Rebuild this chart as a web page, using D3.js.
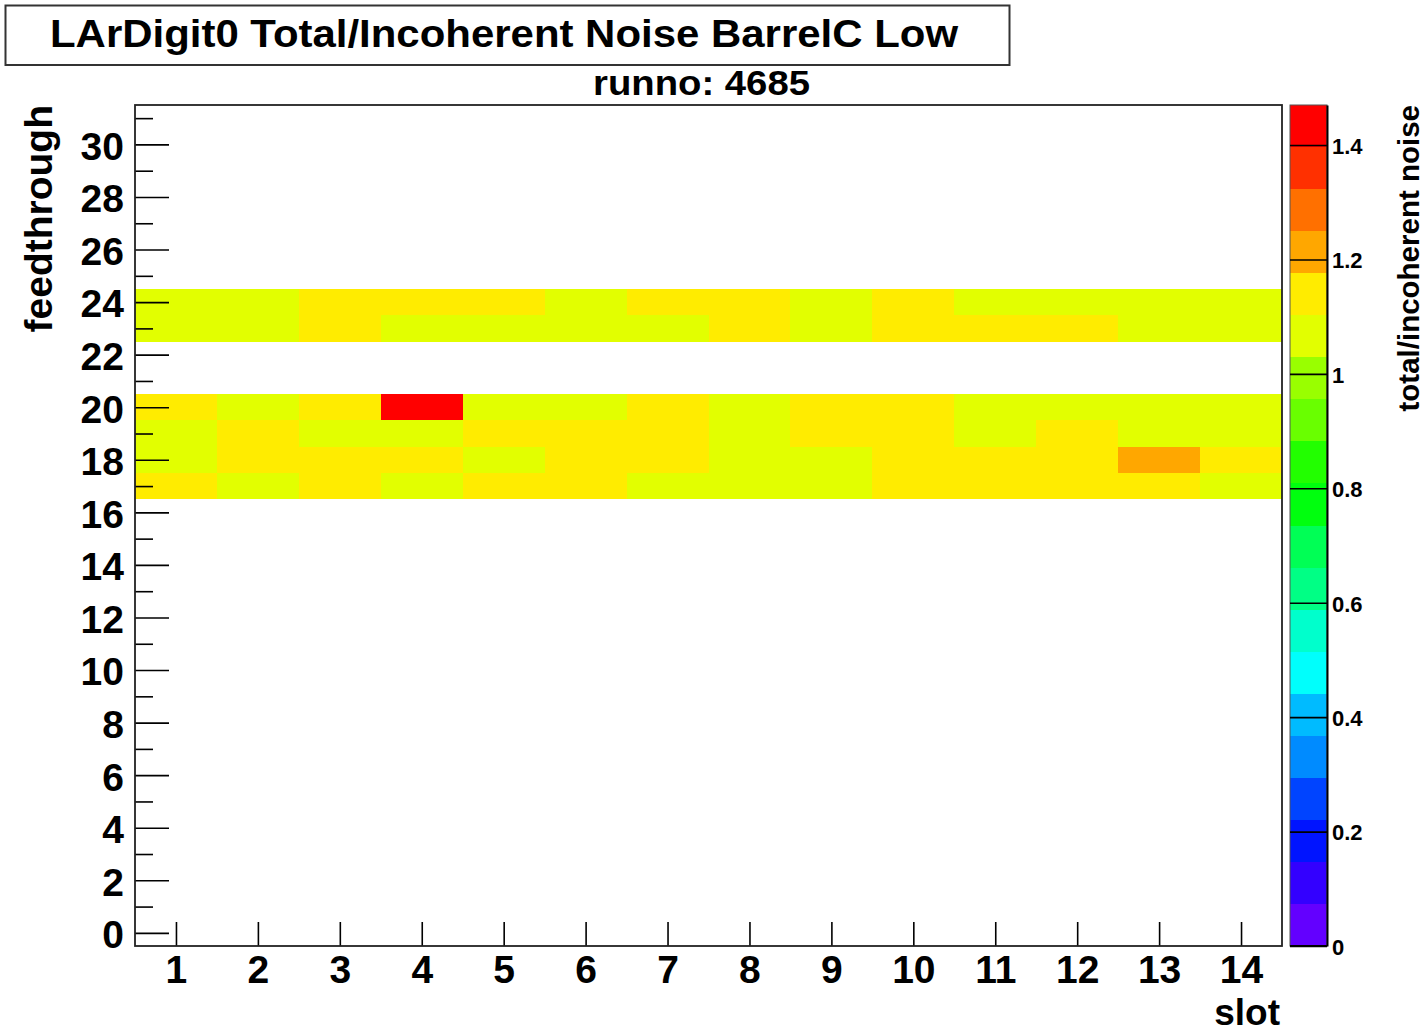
<!DOCTYPE html>
<html>
<head>
<meta charset="utf-8">
<script src="https://cdn.jsdelivr.net/npm/d3@7/dist/d3.min.js"></script>
<style>
  html, body { margin: 0; padding: 0; background: #fff; }
  svg { display: block; }
  text { font-family: "Liberation Sans", Arial, Helvetica, sans-serif; font-weight: bold; fill: #000; }
</style>
</head>
<body>
<svg id="chart" width="1428" height="1034"></svg>
<script>
// ---- data ------------------------------------------------------------
const slots = [1, 2, 3, 4, 5, 6, 7, 8, 9, 10, 11, 12, 13, 14];
const yTicksMajor = [0, 2, 4, 6, 8, 10, 12, 14, 16, 18, 20, 22, 24, 26, 28, 30];
const yTicksMinor = [1, 3, 5, 7, 9, 11, 13, 15, 17, 19, 21, 23, 25, 27, 29, 31];
const zTicks = [0, 0.2, 0.4, 0.6, 0.8, 1.0, 1.2, 1.4];

// total/incoherent noise per slot (1..14) for each populated feedthrough
const noiseFT17 = [1.116, 1.089, 1.129, 1.082, 1.137, 1.121, 1.093, 1.086, 1.079, 1.143, 1.126, 1.118, 1.131, 1.097];
const noiseFT18 = [1.084, 1.131, 1.146, 1.118, 1.091, 1.124, 1.113, 1.075, 1.098, 1.127, 1.139, 1.122, 1.208, 1.133];
const noiseFT19 = [1.092, 1.127, 1.085, 1.097, 1.115, 1.142, 1.129, 1.088, 1.121, 1.136, 1.077, 1.112, 1.089, 1.094];
const noiseFT20 = [1.124, 1.087, 1.138, 1.470, 1.083, 1.095, 1.121, 1.079, 1.133, 1.118, 1.086, 1.094, 1.073, 1.081];
const noiseFT23 = [1.082, 1.066, 1.119, 1.093, 1.079, 1.085, 1.072, 1.142, 1.088, 1.114, 1.125, 1.109, 1.091, 1.076];
const noiseFT24 = [1.071, 1.084, 1.128, 1.135, 1.122, 1.089, 1.131, 1.117, 1.078, 1.126, 1.092, 1.081, 1.074, 1.087];

const feedthroughs = [17, 18, 19, 20, 23, 24];
const rows = [noiseFT17, noiseFT18, noiseFT19, noiseFT20, noiseFT23, noiseFT24];

// 20-level rainbow palette, violet -> red
const palette = ["#6300ff", "#3300ff", "#0014ff", "#0044ff", "#008bff",
                 "#00bbff", "#00fffc", "#00ffcc", "#00ff85", "#00ff55",
                 "#00ff0e", "#22ff00", "#69ff00", "#99ff00", "#e2ff00",
                 "#ffec00", "#ffa700", "#ff7000", "#ff3000", "#ff0000"];

// ---- layout ----------------------------------------------------------
const svg = d3.select("#chart");
const plot = { left: 135, right: 1282, top: 105, bottom: 946 };
const bar = { left: 1290, right: 1327 };
const font = 39;

const x = d3.scaleLinear().domain([0.5, 14.5]).range([plot.left, plot.right]);
const y = d3.scaleLinear().domain([-0.5, 31.5]).range([plot.bottom, plot.top]);

const cells = [];
feedthroughs.forEach((ft, r) => rows[r].forEach((v, i) => cells.push({ slot: slots[i], ft, v })));

const zMax = d3.max(cells, d => d.v);
const z = d3.scaleLinear().domain([0, zMax]).range([plot.bottom, plot.top]);
const nLevels = palette.length;
const level = v => Math.min(nLevels - 1, Math.floor(v / (zMax / nLevels)));

// ---- cells -----------------------------------------------------------
svg.append("g").selectAll("rect").data(cells.filter(d => d.v > 0)).join("rect")
  .attr("x", d => x(d.slot - 0.5))
  .attr("y", d => y(d.ft + 0.5))
  .attr("width", d => x(d.slot + 0.5) - x(d.slot - 0.5))
  .attr("height", d => y(d.ft - 0.5) - y(d.ft + 0.5))
  .attr("fill", d => palette[level(d.v)])
  .attr("shape-rendering", "crispEdges");

// ---- axes ------------------------------------------------------------
function styleAxis(g) {
  g.select(".domain").remove();
  g.selectAll(".tick line").attr("stroke", "#000").attr("stroke-width", 1.6);
  g.selectAll(".tick text").attr("font-size", font).attr("fill", "#000");
}

svg.append("g").attr("transform", `translate(${plot.left},0)`)
  .call(d3.axisLeft(y).tickValues(yTicksMajor).tickSizeInner(-34).tickSizeOuter(0).tickPadding(11))
  .call(styleAxis)
  .call(g => g.selectAll(".tick text").attr("dy", "0.38em"));

svg.append("g").attr("transform", `translate(${plot.left},0)`)
  .call(d3.axisLeft(y).tickValues(yTicksMinor).tickSizeInner(-18).tickSizeOuter(0).tickFormat(""))
  .call(styleAxis);

svg.append("g").attr("transform", `translate(0,${plot.bottom})`)
  .call(d3.axisBottom(x).tickValues(slots).tickSizeInner(-24).tickSizeOuter(0).tickPadding(9))
  .call(styleAxis);

// plot frame
svg.append("rect")
  .attr("x", plot.left).attr("y", plot.top)
  .attr("width", plot.right - plot.left).attr("height", plot.bottom - plot.top)
  .attr("fill", "none").attr("stroke", "#222").attr("stroke-width", 1.8);

// ---- colour bar ------------------------------------------------------
const bands = d3.range(nLevels).map(i => ({ lo: i * zMax / nLevels, hi: (i + 1) * zMax / nLevels, c: palette[i] }));
svg.append("g").selectAll("rect").data(bands).join("rect")
  .attr("x", bar.left).attr("width", bar.right - bar.left)
  .attr("y", d => z(d.hi)).attr("height", d => z(d.lo) - z(d.hi))
  .attr("fill", d => d.c)
  .attr("shape-rendering", "crispEdges");

svg.append("rect")
  .attr("x", bar.left).attr("y", plot.top)
  .attr("width", bar.right - bar.left).attr("height", plot.bottom - plot.top)
  .attr("fill", "none").attr("stroke", "#555").attr("stroke-width", 1);

svg.append("g").attr("transform", `translate(${bar.right},0)`)
  .call(d3.axisRight(z).tickValues(zTicks).tickSizeInner(-(bar.right - bar.left)).tickSizeOuter(0)
        .tickPadding(5).tickFormat(d => String(+d.toFixed(1))))
  .call(g => g.select(".domain").attr("stroke", "#000").attr("stroke-width", 2))
  .call(g => g.selectAll(".tick line").attr("stroke", "#000").attr("stroke-width", 1.6))
  .call(g => g.selectAll(".tick text").attr("font-size", 22).attr("fill", "#000").attr("dy", "0.38em"));

svg.append("line")
  .attr("x1", bar.left).attr("x2", bar.right).attr("y1", plot.bottom).attr("y2", plot.bottom)
  .attr("stroke", "#000").attr("stroke-width", 2);

// ---- titles ----------------------------------------------------------
svg.append("rect")
  .attr("x", 5.5).attr("y", 5.5).attr("width", 1004).attr("height", 59.5)
  .attr("fill", "#fff").attr("stroke", "#333").attr("stroke-width", 2);

svg.append("text")
  .attr("x", 504).attr("y", 47).attr("text-anchor", "middle")
  .attr("font-size", 38).attr("textLength", 908).attr("lengthAdjust", "spacingAndGlyphs")
  .text("LArDigit0 Total/Incoherent Noise BarrelC Low");

svg.append("text")
  .attr("x", 701.5).attr("y", 95).attr("text-anchor", "middle")
  .attr("font-size", 35).attr("textLength", 217).attr("lengthAdjust", "spacingAndGlyphs")
  .text("runno: 4685");

svg.append("text")
  .attr("x", 1280).attr("y", 1025).attr("text-anchor", "end")
  .attr("font-size", 37)
  .text("slot");

svg.append("text")
  .attr("transform", `translate(52,${plot.top}) rotate(-90)`)
  .attr("text-anchor", "end")
  .attr("font-size", font)
  .text("feedthrough");

svg.append("text")
  .attr("transform", `translate(1419,${plot.top}) rotate(-90)`)
  .attr("text-anchor", "end")
  .attr("font-size", 29.5)
  .text("total/incoherent noise");
</script>
</body>
</html>
